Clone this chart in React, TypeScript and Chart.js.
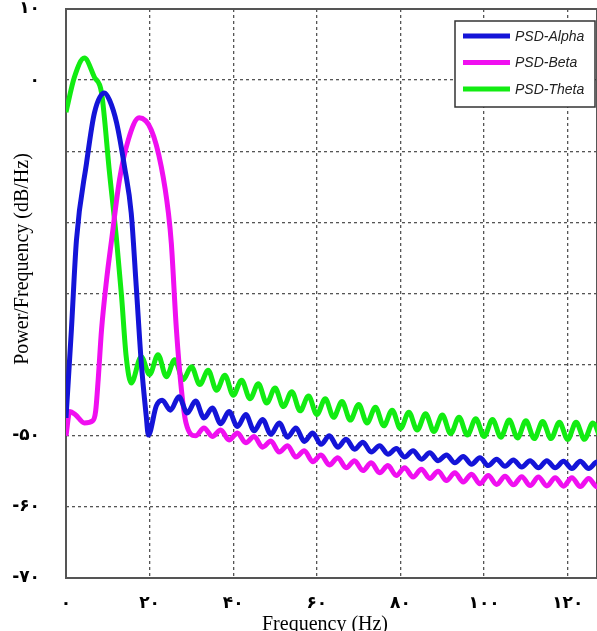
import { useEffect, useRef } from 'react';
import { Chart, registerables } from 'chart.js';

Chart.register(...registerables);

const seriesNames = ['PSD-Alpha', 'PSD-Beta', 'PSD-Theta'];
const seriesColors = ['#1414d8', '#f00ff0', '#12ec12'];

const alphaFreq = [0, 1.3, 2.5, 4.9, 6.8, 9.2, 10.4, 12.1, 14, 15.6, 16.8, 18, 19.2, 19.7, 21.6,
  23, 25, 27, 29, 31, 33, 35, 37, 39, 41, 43, 45, 47, 49, 51, 53, 55, 57, 59, 61, 63, 65, 67, 69,
  71, 73, 75, 77, 79, 81, 83, 85, 87, 89, 91, 93, 95, 97, 99, 101, 103, 105, 107, 109, 111, 113,
  115, 117, 119, 121, 123, 125, 127, 129];
const alphaPower = [-47.5, -35, -22.5, -11.7, -4.6, -1.8, -2.8, -6, -12.2, -18.7, -29, -39.7, -47.3, -49.9, -45.8,
  -45.0, -46.4, -44.5, -46.8, -45.1, -47.5, -46.1, -48.3, -46.6, -48.7, -47.0, -49.3, -47.7, -49.8, -48.2, -50.2,
  -48.9, -50.8, -49.6, -51.2, -50.0, -51.6, -50.5, -51.9, -50.9, -52.3, -51.4, -52.6, -51.8, -53.0, -52.1, -53.3,
  -52.4, -53.5, -52.7, -53.8, -52.9, -54.0, -53.1, -54.2, -53.3, -54.3, -53.4, -54.4, -53.5, -54.5, -53.5, -54.5,
  -53.6, -54.6, -53.6, -54.6, -53.7, -54.7];

const betaFreq = [0, 0.9, 2.2, 4.4, 6.4, 7.1, 7.7, 8.5, 9.7, 10.9, 12.8, 14.9, 17.5, 20.4, 22.8, 24.5, 25.2,
  26.4, 27.6, 28.7, 31, 33, 35, 37, 39, 41, 43, 45, 47, 49, 51, 53, 55, 57, 59, 61, 63, 65, 67, 69, 71, 73,
  75, 77, 79, 81, 83, 85, 87, 89, 91, 93, 95, 97, 99, 101, 103, 105, 107, 109, 111, 113, 115, 117, 119, 121,
  123, 125, 127, 129];
const betaPower = [-50, -46.6, -47.0, -48.2, -47.9, -46.5, -42.1, -35.1, -28.1, -22.5, -14, -8.4, -5.3, -7.0, -12.2,
  -18.7, -23, -35, -43.5, -48.2, -50.0, -48.9, -50.1, -49.2, -50.6, -49.6, -51.0, -50.1, -51.6, -50.75, -52.3,
  -51.4, -53.0, -52.1, -53.65, -52.7, -54.1, -53.1, -54.5, -53.5, -54.9, -53.8, -55.2, -54.2, -55.6, -54.5, -55.8,
  -54.7, -56.0, -55.0, -56.3, -55.2, -56.5, -55.4, -56.75, -55.6, -56.85, -55.7, -56.9, -55.75, -57.0, -55.8,
  -57.05, -55.9, -57.1, -55.9, -57.15, -56.0, -57.2, -56.0];

const thetaFreq = [0, 2, 4.4, 6.8, 8.5, 10.4, 12.1, 13.3, 14.4, 15.6, 18, 20, 22, 24, 26, 28, 30, 32, 34, 36,
  38, 40, 42, 44, 46, 48, 50, 52, 54, 56, 58, 60, 62, 64, 66, 68, 70, 72, 74, 76, 78, 80, 82, 84, 86, 88, 90,
  92, 94, 96, 98, 100, 102, 104, 106, 108, 110, 112, 114, 116, 118, 120, 122, 124, 126, 128];
const thetaPower = [-4.5, 0.4, 3.1, 0.4, -1.8, -13, -22.5, -30.5, -38.9, -42.6, -38.9, -41.4, -38.6, -41.7, -39.3,
  -42.1, -40.3, -42.8, -40.8, -43.6, -41.5, -44.3, -42.2, -44.8, -42.7, -45.4, -43.3, -45.9, -43.8, -46.5, -44.4,
  -47.0, -44.8, -47.4, -45.2, -47.8, -45.6, -48.2, -46.0, -48.6, -46.4, -49.0, -46.7, -49.2, -46.9, -49.4, -47.1,
  -49.7, -47.4, -49.9, -47.6, -50.1, -47.7, -50.2, -47.8, -50.3, -47.9, -50.4, -48.0, -50.4, -48.1, -50.5, -48.1,
  -50.5, -48.2, -50.6];

const xTicks = [0, 20, 40, 60, 80, 100, 120];
const yTicks = [10, 0, -10, -20, -30, -40, -50, -60, -70];
const yLabeled = [10, 0, -50, -60, -70];
const xTitle = 'Frequency (Hz)';
const yTitle = 'Power/Frequency (dB/Hz)';

const faDigits = '۰۱۲۳۴۵۶۷۸۹';
const toFa = (v: number) => String(v).replace(/\d/g, (d) => faDigits[Number(d)]);

const W = 597;
const H = 631;

const decor = {
  id: 'decor',
  beforeDatasetsDraw(chart: any) {
    const { ctx, chartArea: a } = chart;
    ctx.save();
    ctx.strokeStyle = '#555555';
    ctx.lineWidth = 2;
    ctx.strokeRect(a.left, a.top, a.right - a.left, a.bottom - a.top);
    ctx.restore();
  },
  afterDraw(chart: any) {
    const { ctx, chartArea: a } = chart;
    ctx.save();
    const bx = a.right - 142;
    const by = a.top + 12;
    const bw = 140;
    const bh = 86;
    ctx.fillStyle = '#ffffff';
    ctx.fillRect(bx, by, bw, bh);
    ctx.strokeStyle = '#333333';
    ctx.lineWidth = 1.5;
    ctx.strokeRect(bx, by, bw, bh);
    ctx.font = 'italic 14px "Liberation Sans"';
    ctx.textAlign = 'left';
    ctx.textBaseline = 'middle';
    seriesNames.forEach((name, i) => {
      const y = by + 15 + i * 26.5;
      ctx.strokeStyle = seriesColors[i];
      ctx.lineWidth = 5;
      ctx.beginPath();
      ctx.moveTo(bx + 8, y);
      ctx.lineTo(bx + 55, y);
      ctx.stroke();
      ctx.fillStyle = '#222222';
      ctx.fillText(name, bx + 60, y + 1);
    });
    ctx.fillStyle = '#000000';
    ctx.font = '20px "Liberation Serif"';
    ctx.textAlign = 'center';
    ctx.textBaseline = 'alphabetic';
    ctx.fillText(xTitle, 325, 630);
    ctx.translate(28, 259);
    ctx.rotate(-Math.PI / 2);
    ctx.fillText(yTitle, 0, 0);
    ctx.restore();
  },
};

export default function App() {
  const ref = useRef<HTMLCanvasElement | null>(null);

  useEffect(() => {
    if (!ref.current) return;
    const mk = (fx: number[], py: number[]) => fx.map((x, i) => ({ x, y: py[i] }));
    const sets = [mk(alphaFreq, alphaPower), mk(betaFreq, betaPower), mk(thetaFreq, thetaPower)];
    const chart = new Chart(ref.current, {
      type: 'line',
      data: {
        datasets: sets.map((d, i) => ({
          label: seriesNames[i],
          data: d,
          borderColor: seriesColors[i],
          backgroundColor: seriesColors[i],
          borderWidth: 5,
          pointRadius: 0,
          fill: false,
          cubicInterpolationMode: 'monotone' as const,
        })),
      },
      options: {
        animation: false,
        responsive: false,
        devicePixelRatio: 1,
        layout: { padding: { top: 9, right: 0, left: 0, bottom: 0 } },
        plugins: { legend: { display: false }, tooltip: { enabled: false } },
        scales: {
          x: {
            type: 'linear',
            min: 0,
            max: 127,
            afterBuildTicks: (s: any) => {
              s.ticks = xTicks.map((v) => ({ value: v }));
            },
            afterFit: (s: any) => {
              s.height = 53;
              s.paddingLeft = 0;
              s.paddingRight = 0;
              s.paddingTop = 0;
              s.paddingBottom = 0;
            },
            grid: { color: '#555555', lineWidth: 1.3, drawTicks: false },
            border: { display: false, dash: [3, 3] },
            ticks: {
              padding: 15,
              color: '#000000',
              font: { family: '"DejaVu Sans"', size: 17, weight: 'bold' },
              callback: (v: any) => toFa(Number(v)),
              maxRotation: 0,
              autoSkip: false,
            },
          },
          y: {
            type: 'linear',
            min: -70,
            max: 10,
            afterBuildTicks: (s: any) => {
              s.ticks = yTicks.map((v) => ({ value: v }));
            },
            afterFit: (s: any) => {
              s.width = 66;
              s.paddingTop = 0;
              s.paddingBottom = 0;
              s.paddingLeft = 0;
              s.paddingRight = 0;
            },
            grid: { color: '#555555', lineWidth: 1.3, drawTicks: false },
            border: { display: false, dash: [3, 3] },
            ticks: {
              padding: 26,
              color: '#000000',
              font: { family: '"DejaVu Sans"', size: 17, weight: 'bold' },
              callback: (v: any) => (yLabeled.includes(Number(v)) ? toFa(Number(v)) : ''),
              autoSkip: false,
            },
          },
        },
      },
      plugins: [decor],
    });
    return () => chart.destroy();
  }, []);

  return (
    <div style={{ position: 'absolute', left: 0, top: 0, width: W, height: H, background: '#ffffff' }}>
      <canvas ref={ref} width={W} height={H} style={{ display: 'block', width: W, height: H }} />
    </div>
  );
}
